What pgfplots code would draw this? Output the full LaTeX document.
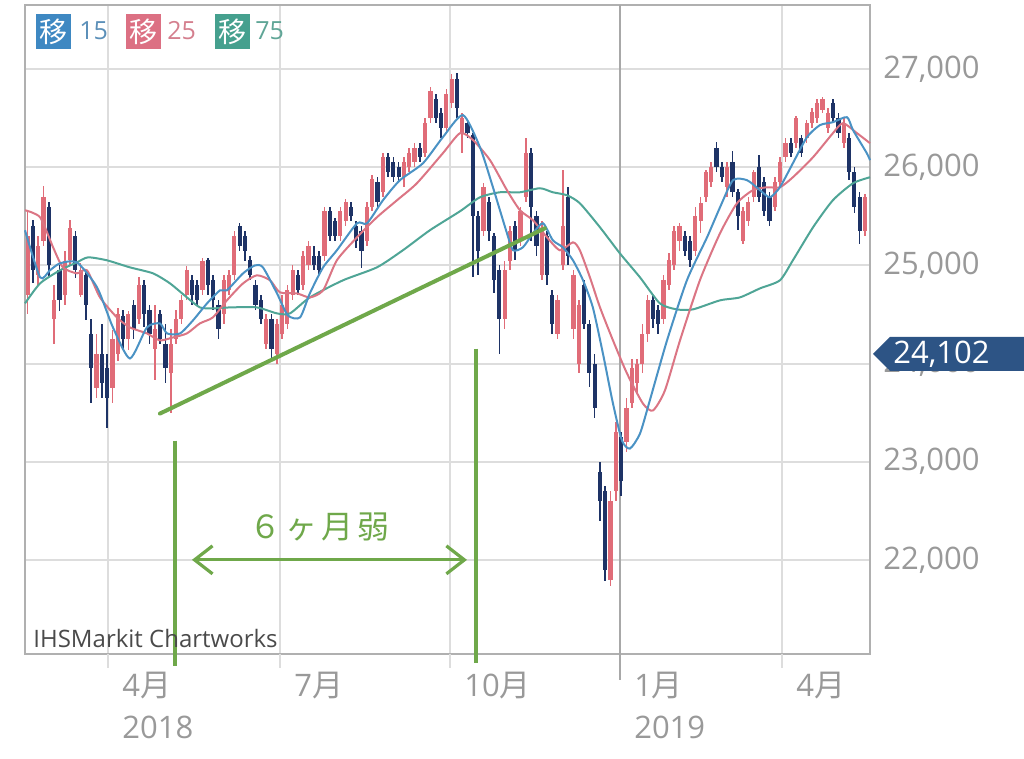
\documentclass[border=0pt]{standalone}
\usepackage{fontspec}
\setmainfont{Open Sans}
\newfontfamily\cjk{Noto Sans CJK JP}
\usepackage{pgfplots}
\usepackage{pgfplotstable}
\pgfplotsset{compat=1.18}
\usetikzlibrary{arrows.meta}
\definecolor{upred}{HTML}{E06C78}
\definecolor{downnavy}{HTML}{1E3366}
\definecolor{maA}{HTML}{4A92C4}
\definecolor{maB}{HTML}{DB7584}
\definecolor{maC}{HTML}{4FA596}
\definecolor{gridgray}{HTML}{DDDDDD}
\definecolor{darkgrid}{HTML}{A8A8A8}
\definecolor{framegray}{HTML}{B0B0B0}
\definecolor{tickgray}{HTML}{999999}
\definecolor{greenc}{HTML}{6FA84A}
\definecolor{pricebox}{HTML}{2D5485}
\definecolor{boxA}{HTML}{3E88C2}
\definecolor{boxB}{HTML}{DC7083}
\definecolor{boxC}{HTML}{45A08E}
\definecolor{txtA}{HTML}{5B8FB8}
\definecolor{txtB}{HTML}{D47F8E}
\definecolor{txtC}{HTML}{5FA596}
\definecolor{ihsgray}{HTML}{4A4A4A}

% candles: t = trading-day index, o h l c
\pgfplotstableread{
t o h l c
1 24700 25550 24500 25300
5 24900 25300 24800 25200
7 25250 25810 25200 25700
11 24450 24800 24200 24650
15 24700 25150 24600 25050
17 25050 25460 25000 25380
21 24700 25020 24680 24950
27 23750 24300 23650 24100
33 23750 24340 23600 24250
35 24100 24570 24030 24500
39 24250 24540 24140 24500
43 24450 24880 24400 24800
49 24150 24600 23830 24350
55 23900 24350 23500 24200
57 24250 24550 24200 24450
59 24450 24700 24400 24650
61 24700 24990 24650 24950
67 24750 25080 24700 25050
75 24500 24900 24400 24850
77 24750 24950 24700 24900
79 24900 25350 24850 25300
91 24200 24500 24150 24450
95 24100 24450 24000 24400
97 24300 24700 24250 24600
99 24400 24800 24350 24750
101 24700 25000 24650 24950
105 24800 25150 24750 25100
107 25000 25250 24950 25200
113 25100 25600 25050 25550
119 25300 25600 25250 25550
121 25450 25680 25400 25650
129 25250 25650 25200 25600
131 25600 25920 25550 25880
135 25750 26150 25700 26100
143 25900 26100 25800 26050
145 26000 26200 25950 26150
147 26050 26250 26000 26200
151 26150 26500 26100 26450
153 26500 26820 26450 26780
159 26400 26800 26350 26750
161 26650 26950 26600 26900
165 26350 26550 26150 26500
173 25350 25840 25300 25800
181 24450 25050 24350 24950
183 25050 25400 24950 25350
187 25250 25600 25200 25550
189 25700 26300 25650 26150
195 24900 25450 24850 25350
201 24300 24700 24250 24650
203 25000 25970 24950 25400
207 24350 24950 24250 24900
209 24000 24650 23900 24600
221 21800 22700 21730 22600
223 22700 23400 22600 23300
227 23200 23650 23100 23550
229 23600 24050 23550 23950
231 23800 24050 23700 24000
233 24000 24400 23900 24300
235 24300 24700 24220 24650
241 24450 24900 24400 24850
243 24800 25130 24750 25050
245 25000 25400 24950 25350
247 25250 25430 25150 25400
253 25150 25600 25100 25500
255 25450 25700 25330 25640
257 25700 25970 25650 25950
259 25850 26050 25800 26000
265 25800 26050 25700 26000
271 25250 25590 25220 25550
273 25450 25700 25400 25650
275 25700 25970 25650 25950
283 25600 25900 25550 25850
285 25850 26100 25800 26050
287 26100 26300 26050 26250
291 26250 26520 26200 26500
295 26300 26480 26250 26450
297 26450 26600 26400 26560
299 26500 26700 26450 26650
301 26580 26720 26550 26700
303 26400 26600 26350 26550
309 26250 26500 26200 26450
317 25350 25730 25300 25700
}\upcandles

\pgfplotstableread{
t o h l c
3 25400 25460 24820 24950
9 25600 25650 24880 25000
13 24950 25000 24540 24650
19 25300 25350 24870 24950
23 24900 24950 24440 24600
25 24300 24450 23600 23950
29 24100 24400 23650 23800
31 23950 24100 23340 23650
37 24480 24550 24150 24250
41 24600 24650 24250 24350
45 24800 24850 24370 24500
47 24550 24600 24200 24300
51 24500 24550 24200 24250
53 24200 24400 23800 23950
63 24850 24900 24600 24700
65 24800 24850 24600 24650
69 25050 25080 24700 24800
71 24850 24900 24550 24650
73 24600 24650 24250 24350
81 25400 25430 25150 25200
83 25300 25350 25050 25150
85 25050 25100 24850 24900
87 24800 24850 24550 24600
89 24650 24700 24400 24450
93 24450 24500 24050 24150
103 24900 24950 24700 24750
109 25100 25200 24950 25000
111 25100 25150 24900 24950
115 25550 25600 25250 25300
117 25450 25480 25250 25300
123 25600 25650 25450 25500
125 25400 25450 25180 25250
127 25350 25400 24970 25150
133 25850 25900 25600 25650
137 26100 26150 25900 25950
139 26050 26100 25850 25900
141 26000 26050 25850 25900
149 26200 26250 26050 26100
155 26700 26750 26450 26500
157 26550 26600 26300 26400
163 26900 26960 26500 26600
167 26450 26480 26300 26350
169 26330 26350 24880 25500
171 25500 25550 24900 25150
175 25650 25700 25250 25350
177 25300 25330 24720 24850
179 24950 25000 24100 24450
185 25400 25450 25050 25150
191 26150 26200 25250 25600
193 25500 25550 25100 25200
197 25300 25350 24800 24900
199 24700 24750 24300 24400
205 25700 25800 25000 25100
211 24800 24850 24350 24400
213 24400 24440 23760 23900
215 24000 24100 23450 23550
217 22900 23000 22400 22600
219 22700 22750 21780 21900
225 23250 23300 22650 22800
237 24650 24700 24360 24450
239 24550 24600 24300 24400
249 25300 25350 25100 25150
251 25250 25300 24980 25050
261 26200 26260 25950 26000
263 26000 26050 25850 25900
267 26050 26170 25700 25750
269 25750 25780 25360 25500
277 26000 26120 25650 25700
279 25850 25900 25500 25550
281 25700 25750 25400 25450
289 26250 26300 26100 26150
293 26300 26330 26100 26150
305 26650 26700 26450 26500
307 26500 26550 26300 26350
311 26300 26350 25870 25950
313 25950 26000 25530 25600
315 25700 25750 25220 25350
}\downcandles

\pgfplotstableread{
t v
0 25358
5.7 24878
9.4 24950
13.2 25021
19.6 25031
27.2 24776
33.2 24368
39.6 24052
46.0 24368
50.9 24409
53.6 24307
58.5 24307
63.4 24440
68.7 24613
73.6 24746
76.2 24746
82.3 24919
86.8 25000
89.8 24980
95.1 24715
99.2 24491
103.8 24470
107.5 24715
112.5 24980
117.7 25154
125.3 25429
129.1 25429
135.1 25664
141.5 25868
150.2 26041
157.7 26306
165.3 26531
171.7 26204
176.6 25796
181.9 25327
184.2 25154
187.9 25184
191.7 25327
195.5 25429
199.2 25256
203.0 25184
206.8 25052
210.6 24848
214.3 24572
218.1 24103
221.9 23593
225.3 23216
228.3 23134
232.1 23287
235.8 23624
242.3 24236
249.8 24848
257.4 25286
262.3 25592
267.2 25868
272.5 25868
277.4 25766
281.1 25694
284.9 25796
289.8 26041
295.1 26306
300.0 26429
304.9 26459
310.2 26510
312.5 26378
317.7 26143
318.9 26072
}\mafifteen

\pgfplotstableread{
t v
0 25562
5.7 25490
10.6 25184
14.3 24980
19.6 24919
23.4 24950
28.3 24674
34.7 24470
39.6 24368
46.0 24307
50.9 24236
55.8 24266
61.1 24307
66.0 24409
70.9 24470
76.2 24644
82.3 24817
87.5 24899
92.5 24848
96.2 24725
102.6 24715
107.5 24674
112.5 24746
117.7 25052
125.3 25286
132.8 25490
140.4 25664
147.9 25837
157.7 26143
164.2 26347
169.1 26276
175.5 26072
181.9 25766
186.8 25562
191.7 25460
197.0 25286
201.9 25154
206.8 25235
209.4 25154
213.2 24878
217.0 24572
221.9 24236
227.2 23899
233.2 23593
237.0 23522
241.5 23726
247.2 24236
254.7 24848
262.3 25327
268.7 25633
274.7 25766
280.0 25796
284.9 25796
289.8 25898
297.4 26102
304.9 26347
308.7 26449
314.0 26347
318.9 26245
}\matwentyfive

\pgfplotstableread{
t v
0 24613
5.7 24817
13.2 24950
19.6 25031
23.8 25082
30.9 25052
39.6 24980
48.3 24919
54.7 24817
61.1 24674
66.0 24572
70.9 24562
77.4 24572
87.5 24572
95.1 24511
100.0 24511
107.5 24674
120.0 24848
132.8 24980
142.6 25154
152.8 25358
164.2 25552
171.7 25694
179.2 25745
186.8 25745
194.3 25786
199.2 25745
204.5 25715
209.4 25633
217.0 25388
224.5 25123
232.1 24878
239.6 24613
246.0 24552
252.1 24552
262.3 24644
269.8 24674
277.4 24766
284.9 24848
289.8 25052
297.4 25388
304.9 25664
312.5 25837
318.9 25898
}\maseventyfive

\begin{document}
\begin{tikzpicture}
\useasboundingbox (0pt,0pt) rectangle (512pt,379.5pt);
\begin{axis}[
  at={(12.5pt,52.5pt)}, anchor=south west,
  scale only axis, width=422.5pt, height=324.5pt,
  xmin=0, xmax=318.9, ymin=21041, ymax=27653,
  clip=false,
  axis line style={draw=framegray, line width=0.7pt},
  grid=major,
  major grid style={draw=gridgray, line width=1pt},
  major tick length=0pt,
  xtick={31.3,96.2,160.4,285.7},
  xticklabels={{4{\cjk 月}\\2018},{7{\cjk 月}},{10{\cjk 月}},{4{\cjk 月}}},
  extra x ticks={224.5},
  extra x tick labels={{1{\cjk 月}\\2019}},
  extra x tick style={major grid style={draw=darkgrid, line width=1pt}},
  xticklabel style={anchor=north west, align=left, inner sep=0pt,
    font=\fontsize{15.5}{21}\selectfont, text=tickgray, xshift=7pt, yshift=-9pt},
  ytick={22000,23000,24000,25000,26000,27000},
  yticklabels={{22,000},{23,000},{24,000},{25,000},{26,000},{27,000}},
  yticklabel pos=right,
  yticklabel style={anchor=west, inner sep=0pt, xshift=6.5pt,
    font=\fontsize{15.5}{15.5}\selectfont, text=tickgray},
]
% wicks
\addplot[draw=none, mark=none, forget plot,
  error bars/.cd, y dir=both, y explicit, error mark=none,
  error bar style={draw=upred, line width=0.8pt}]
  table[x=t, y expr={(\thisrow{h}+\thisrow{l})/2}, y error expr={(\thisrow{h}-\thisrow{l})/2}] {\upcandles};
\addplot[draw=none, mark=none, forget plot,
  error bars/.cd, y dir=both, y explicit, error mark=none,
  error bar style={draw=downnavy, line width=0.8pt}]
  table[x=t, y expr={(\thisrow{h}+\thisrow{l})/2}, y error expr={(\thisrow{h}-\thisrow{l})/2}] {\downcandles};
% bodies
\addplot[draw=none, mark=none, forget plot,
  error bars/.cd, y dir=both, y explicit, error mark=none,
  error bar style={draw=upred, line width=2.1pt}]
  table[x=t, y expr={(\thisrow{o}+\thisrow{c})/2}, y error expr={abs(\thisrow{c}-\thisrow{o})/2}] {\upcandles};
\addplot[draw=none, mark=none, forget plot,
  error bars/.cd, y dir=both, y explicit, error mark=none,
  error bar style={draw=downnavy, line width=2.1pt}]
  table[x=t, y expr={(\thisrow{o}+\thisrow{c})/2}, y error expr={abs(\thisrow{c}-\thisrow{o})/2}] {\downcandles};
% moving averages
\addplot[maC, line width=1pt, mark=none, smooth, tension=0.4] table[x=t, y=v] {\maseventyfive};
\addplot[maB, line width=1pt, mark=none, smooth, tension=0.4] table[x=t, y=v] {\matwentyfive};
\addplot[maA, line width=1pt, mark=none, smooth, tension=0.4] table[x=t, y=v] {\mafifteen};
% green annotations
\draw[greenc, line width=2pt, line cap=round] (axis cs:50.9,23490) -- (axis cs:196.2,25378);
\draw[greenc, line width=1.6pt] (axis cs:56.6,23214) -- (axis cs:56.6,20918);
\draw[greenc, line width=1.6pt] (axis cs:170.2,24153) -- (axis cs:170.2,20949);
\draw[greenc, line width=1.6pt, {Straight Barb[length=9pt,width=14pt,line width=1.6pt]}-{Straight Barb[length=9pt,width=14pt,line width=1.6pt]}]
  (axis cs:63,22000) -- (axis cs:166.8,22000);
\node[text=greenc, font=\cjk\fontsize{16}{16}\selectfont] at (axis cs:111.3,22337) {６\hspace{2pt}ヶ\hspace{2pt}月\hspace{2pt}弱};
\end{axis}
\begin{scope}[x=0.5pt, y=-0.5pt, shift={(0pt,379.5pt)}]
% tick extensions below the axis
\draw[gridgray, line width=1pt] (108,654) -- (108,668);
\draw[gridgray, line width=1pt] (280,654) -- (280,668);
\draw[gridgray, line width=1pt] (450,654) -- (450,668);
\draw[gridgray, line width=1pt] (782,654) -- (782,668);
\draw[darkgrid, line width=1pt] (620,654) -- (620,680);
% price label
\fill[pricebox] (873,354) -- (890,337) -- (1024,337) -- (1024,371) -- (890,371) -- cycle;
\node[anchor=west, inner sep=0pt, text=white, font=\fontsize{15.5}{15.5}\selectfont] at (893,354) {24,102};
% legend
\fill[boxA] (36,14) rectangle (71,49);
\node[text=white, font=\cjk\fontsize{14}{14}\selectfont] at (53.5,31.5) {移};
\node[anchor=west, inner sep=0pt, text=txtA, font=\fontsize{12.5}{12.5}\selectfont] at (79,31) {15};
\fill[boxB] (126,14) rectangle (161,49);
\node[text=white, font=\cjk\fontsize{14}{14}\selectfont] at (143.5,31.5) {移};
\node[anchor=west, inner sep=0pt, text=txtB, font=\fontsize{12.5}{12.5}\selectfont] at (167,31) {25};
\fill[boxC] (215,14) rectangle (250,49);
\node[text=white, font=\cjk\fontsize{14}{14}\selectfont] at (232.5,31.5) {移};
\node[anchor=west, inner sep=0pt, text=txtC, font=\fontsize{12.5}{12.5}\selectfont] at (255,31) {75};
% source
\node[anchor=west, inner sep=0pt, text=ihsgray, font=\fontsize{12}{12}\selectfont] at (33,639) {IHSMarkit Chartworks};
\end{scope}
\end{tikzpicture}
\end{document}
